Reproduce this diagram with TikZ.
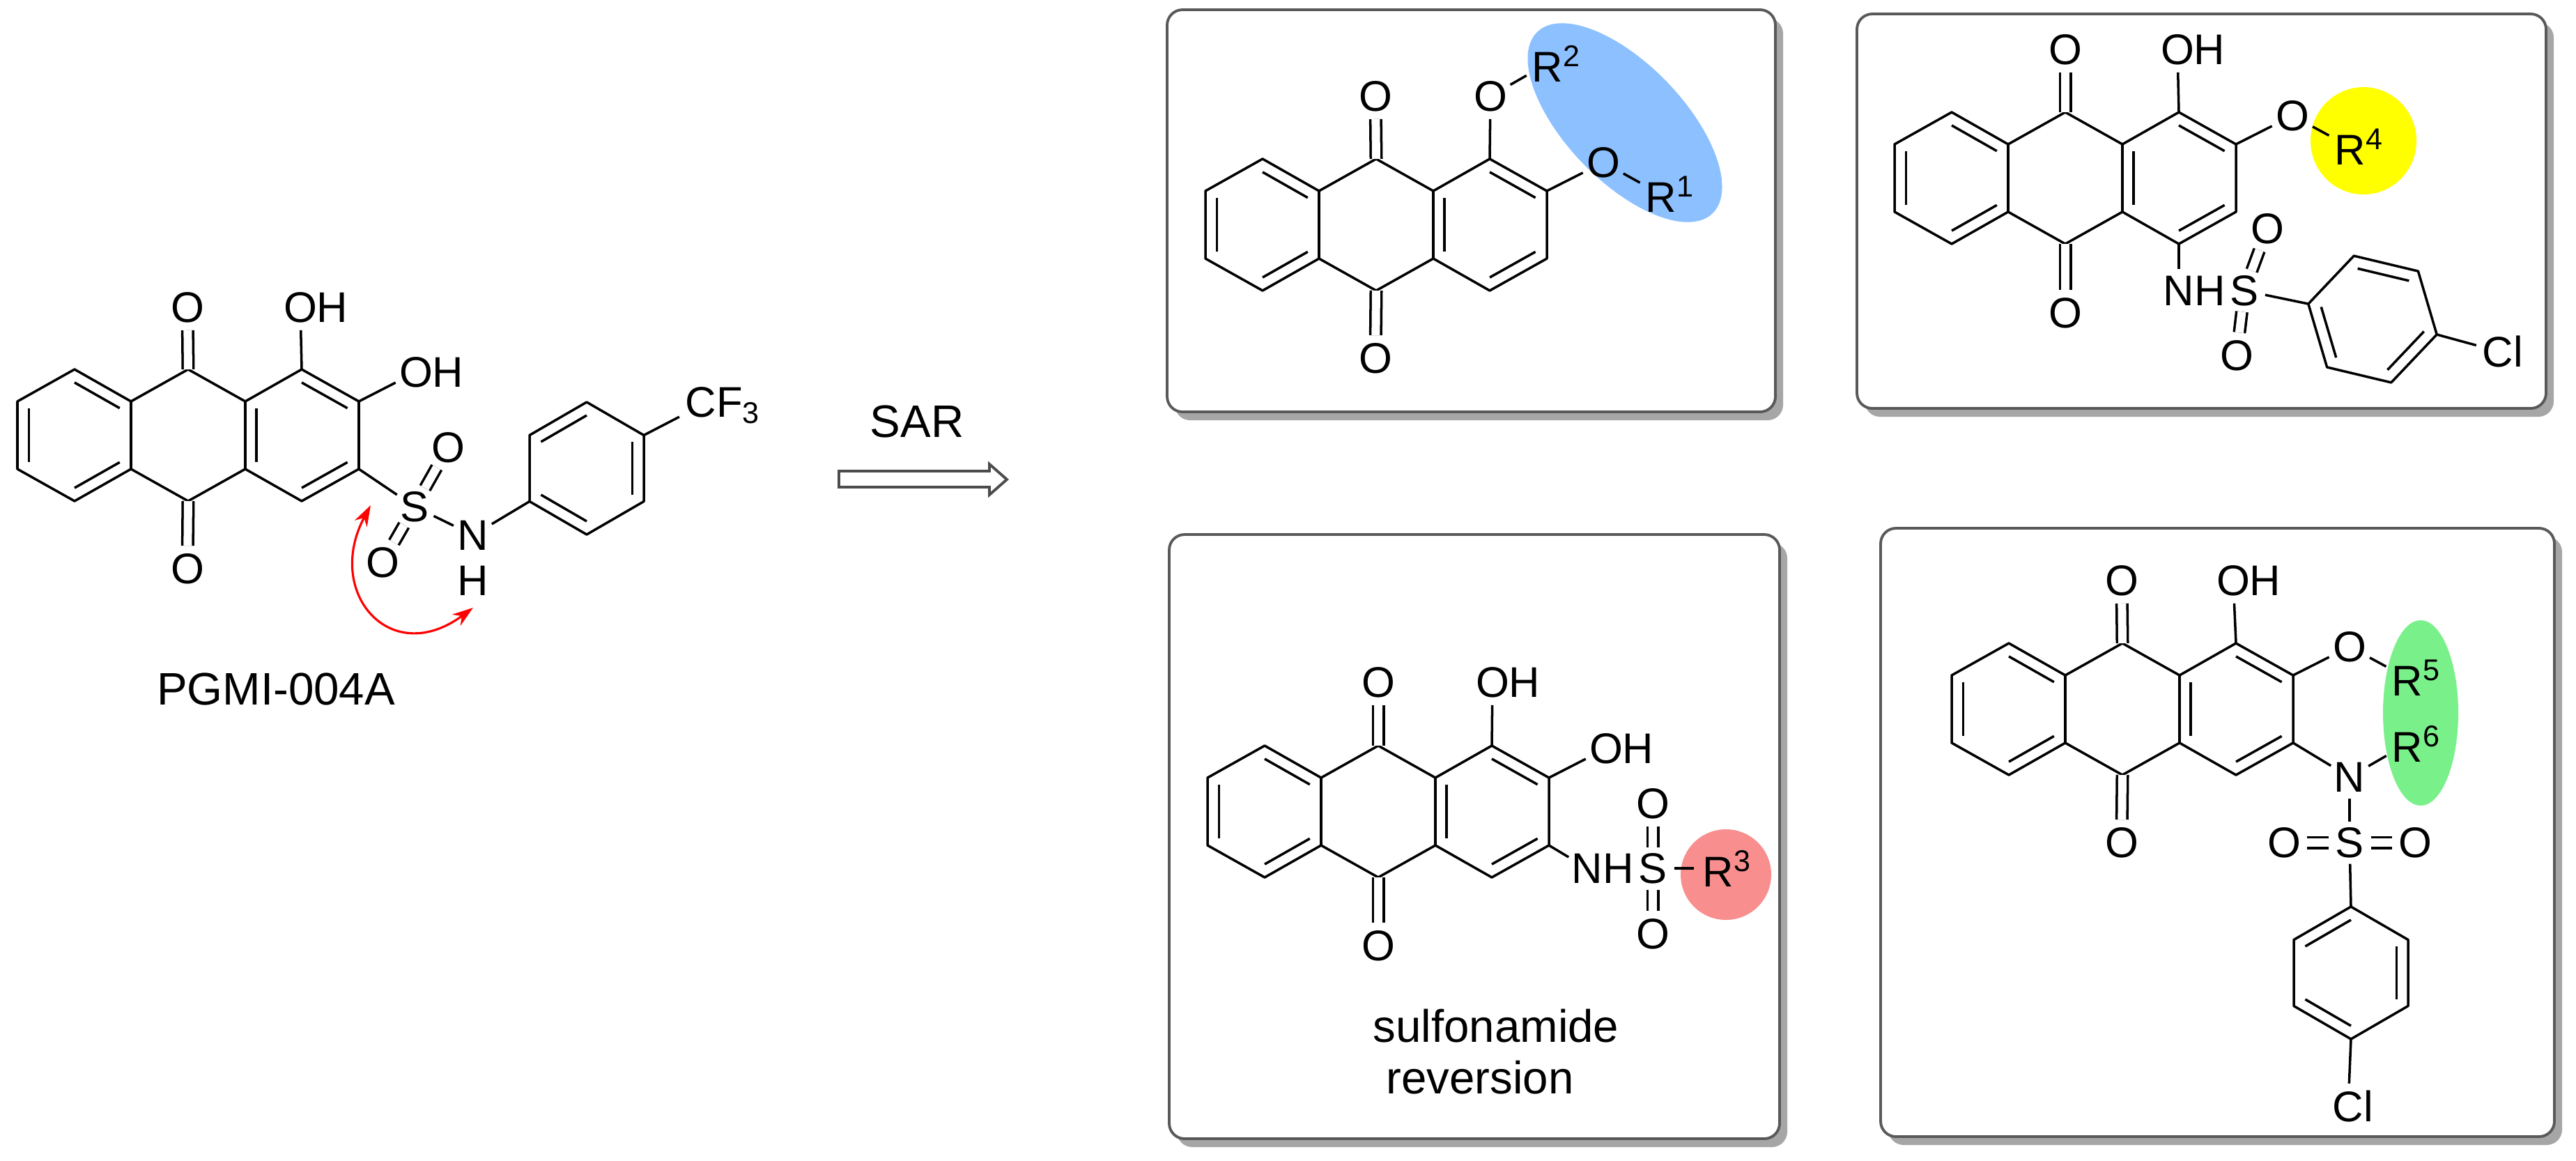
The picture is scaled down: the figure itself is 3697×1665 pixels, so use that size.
\documentclass[tikz,border=0pt]{standalone}
\usepackage{fontspec}
\setmainfont{Liberation Sans}
\usetikzlibrary{calc,shadows,arrows.meta}

\definecolor{blobblue}{HTML}{8CC0FF}
\definecolor{blobyellow}{HTML}{FFFF00}
\definecolor{blobpink}{HTML}{F88E8E}
\definecolor{blobgreen}{HTML}{7AF08A}

\newcommand{\inbond}[3]{\draw ($(#1)!.2!(#3)$) -- ($(#2)!.2!(#3)$);}

\tikzset{
    bond/.style={line width=1pt,line join=round},
    dbl/.style={bond,double,double distance=3.4pt},
    atom/.style={circle,inner sep=0pt,font=\fontsize{17.5}{20}\selectfont},
    caption/.style={font=\fontsize{18.6}{22}\selectfont},
    card/.style={draw=black!65,line width=1.1pt,fill=white,rounded corners=0.22cm,
        drop shadow={shadow xshift=0.11cm,shadow yshift=-0.12cm,fill=black!35,opacity=1}},
    pics/core/.style={code={
        \coordinate (-t1) at (82,-46);
        \coordinate (-t2) at (245,-46);
        \coordinate (-t3) at (408,-46);
        \coordinate (-u0) at (0,0);
        \coordinate (-u1) at (163,0);
        \coordinate (-u2) at (327,0);
        \coordinate (-u3) at (490,0);
        \coordinate (-l0) at (0,97);
        \coordinate (-l1) at (163,97);
        \coordinate (-l2) at (327,97);
        \coordinate (-l3) at (490,97);
        \coordinate (-b1) at (82,143);
        \coordinate (-b2) at (245,143);
        \coordinate (-b3) at (408,143);
        \coordinate (-r1) at (82,48.5);
        \coordinate (-r2) at (245,48.5);
        \coordinate (-r3) at (408,48.5);
        \begin{scope}[bond]
            \draw (-u0) -- (-t1) -- (-u1) -- (-t2) -- (-u2) -- (-t3) -- (-u3)
                -- (-l3) -- (-b3) -- (-l2) -- (-b2) -- (-l1) -- (-b1) -- (-l0) -- cycle;
            \draw (-u1) -- (-l1);
            \draw (-u2) -- (-l2);
            \inbond{-u0}{-l0}{-r1}
            \inbond{-t1}{-u1}{-r1}
            \inbond{-l1}{-b1}{-r1}
            \inbond{-u2}{-l2}{-r3}
            \inbond{-t3}{-u3}{-r3}
            \inbond{-l3}{-b3}{-r3}
        \end{scope}
    }},
    pics/phenyl/.style={code={
        \coordinate (-v0) at (0,-95);
        \coordinate (-v1) at (82,-47.5);
        \coordinate (-v2) at (82,47.5);
        \coordinate (-v3) at (0,95);
        \coordinate (-v4) at (-82,47.5);
        \coordinate (-v5) at (-82,-47.5);
        \coordinate (-r) at (0,0);
        \begin{scope}[bond]
            \draw (-v0) -- (-v1) -- (-v2) -- (-v3) -- (-v4) -- (-v5) -- cycle;
            \inbond{-v5}{-v0}{-r}
            \inbond{-v1}{-v2}{-r}
            \inbond{-v3}{-v4}{-r}
        \end{scope}
    }}
}

\begin{document}
\begin{tikzpicture}[x=0.01cm,y=-0.01cm]
    \useasboundingbox (0,0) rectangle (3697,1665);

    % Draw lead compound
    \pic (m) at (25,576) {core};
    \pic (mp) at (842,672) {phenyl};
    \node[atom] (mo1) at (269,441) {O};
    \node[atom] (mo2) at (269,816) {O};
    \node[atom] (moh1) at (431,441) {O\rlap{H}};
    \node[atom] (moh2) at (597,534) {O\rlap{H}};
    \node[atom] (ms) at (595,727) {S};
    \node[atom] (mo3) at (643,642) {O};
    \node[atom] (mo4) at (549,807) {O};
    \node[atom] (mn) at (679,768) {N};
    \node[atom] (mh) at (679,833) {H};
    \node[atom] (mcf) at (1006,582) {C\rlap{F\textsubscript{3}}};
    \draw[dbl] (m-t2) -- (mo1);
    \draw[dbl] (m-b2) -- (mo2);
    \draw[bond] (m-t3) -- (moh1);
    \draw[bond] (m-u3) -- (moh2);
    \draw[bond] (m-l3) -- (ms);
    \draw[dbl] (ms) -- (mo3);
    \draw[dbl] (ms) -- (mo4);
    \draw[bond] (ms) -- (mn);
    \draw[bond] (mn) -- (mp-v4);
    \draw[bond] (mp-v1) -- (mcf);
    \node[caption] (pgmi) at (396,989) {PGMI-004A};

    % Draw red double arrow
    \coordinate (ra) at (532,725);
    \coordinate (rb) at (679,872);
    \draw[red,line width=0.9pt,{Stealth[length=3mm,width=2mm]}-{Stealth[length=3mm,width=2mm]}] (ra)
        .. controls (465,850) and (560,960) .. (rb);

    % Draw SAR arrow
    \node[caption] (sar) at (1316,605) {SAR};
    \draw[black!70,line width=1.1pt,fill=white] (1204,676) -- (1420,676) -- (1420,666)
        -- (1445,688) -- (1420,710) -- (1420,699) -- (1204,699) -- cycle;

    % Draw box 1
    \draw[card] (1675,14) rectangle (2548,591);
    \fill[blobblue,rotate around={-46:(2332,176)}] (2332,176) ellipse (181 and 84);
    \pic (a) at (1730,274) {core};
    \node[atom] (ao1) at (1974,138) {O};
    \node[atom] (ao2) at (1974,514) {O};
    \node[atom] (ao3) at (2139,138) {O};
    \node[atom] (ao4) at (2301,233) {O};
    \node[atom] (ar2) at (2221,91) {R\rlap{\textsuperscript{2}}};
    \node[atom] (ar1) at (2384,279) {R\rlap{\textsuperscript{1}}};
    \draw[dbl] (a-t2) -- (ao1);
    \draw[dbl] (a-b2) -- (ao2);
    \draw[bond] (a-t3) -- (ao3);
    \draw[bond] (a-u3) -- (ao4);
    \draw[bond] (ao3) -- (ar2);
    \draw[bond] (ao4) -- (ar1);

    % Draw box 2
    \draw[card] (2665,20) rectangle (3654,586);
    \fill[blobyellow] (3392,202) ellipse (76 and 77);
    \pic (b) at (2719,207) {core};
    \pic[rotate=-43.5] (bp) at (3405,458) {phenyl};
    \node[atom] (bo1) at (2964,71) {O};
    \node[atom] (bo2) at (2964,449) {O};
    \node[atom] (boh) at (3125,71) {O\rlap{H}};
    \node[atom] (bo3) at (3290,166) {O};
    \node[atom] (br4) at (3373,211) {R\rlap{\textsuperscript{4}}};
    \node[atom] (bn) at (3127,417) {N\rlap{H}};
    \node[atom] (bs) at (3221,417) {S};
    \node[atom] (bo4) at (3254,328) {O};
    \node[atom] (bo5) at (3210,510) {O};
    \node[atom] (bcl) at (3585,504) {C\rlap{l}};
    \draw[dbl] (b-t2) -- (bo1);
    \draw[dbl] (b-b2) -- (bo2);
    \draw[bond] (b-t3) -- (boh);
    \draw[bond] (b-u3) -- (bo3);
    \draw[bond] (bo3) -- (br4);
    \draw[bond] (b-b3) -- (bn);
    \draw[dbl] (bs) -- (bo4);
    \draw[dbl] (bs) -- (bo5);
    \draw[bond] (bs) -- (bp-v4);
    \draw[bond] (bp-v1) -- (bcl);

    % Draw box 3
    \draw[card] (1678,767) rectangle (2554,1634);
    \fill[blobpink] (2477,1255) circle (65);
    \pic (c) at (1733,1116) {core};
    \node[atom] (co1) at (1978,979) {O};
    \node[atom] (co2) at (1978,1357) {O};
    \node[atom] (coh1) at (2142,979) {O\rlap{H}};
    \node[atom] (coh2) at (2305,1074) {O\rlap{H}};
    \node[atom] (cn) at (2278,1246) {N\rlap{H}};
    \node[atom] (cs) at (2372,1246) {S};
    \node[atom] (co3) at (2372,1153) {O};
    \node[atom] (co4) at (2372,1340) {O};
    \node[atom] (cr3) at (2466,1246) {R\rlap{\textsuperscript{3}}};
    \draw[dbl] (c-t2) -- (co1);
    \draw[dbl] (c-b2) -- (co2);
    \draw[bond] (c-t3) -- (coh1);
    \draw[bond] (c-u3) -- (coh2);
    \draw[bond] (c-l3) -- (cn);
    \draw[dbl] (cs) -- (co3);
    \draw[dbl] (cs) -- (co4);
    \draw[bond] (cs) -- (cr3);
    \node[caption] (sulf) at (2147,1472) {sulfonamide};
    \node[caption] (rev) at (2124,1546) {reversion};

    % Draw box 4
    \draw[card] (2699,758) rectangle (3666,1631);
    \fill[blobgreen] (3474,1023) ellipse (54 and 133);
    \pic (d) at (2801,969) {core};
    \pic (dp) at (3374,1396) {phenyl};
    \node[atom] (do1) at (3045,833) {O};
    \node[atom] (do2) at (3045,1209) {O};
    \node[atom] (doh) at (3205,833) {O\rlap{H}};
    \node[atom] (do3) at (3372,928) {O};
    \node[atom] (dr5) at (3455,973) {R\rlap{\textsuperscript{5}}};
    \node[atom] (dr6) at (3455,1067) {R\rlap{\textsuperscript{6}}};
    \node[atom] (dn) at (3372,1115) {N};
    \node[atom] (ds) at (3372,1209) {S};
    \node[atom] (do4) at (3278,1209) {O};
    \node[atom] (do5) at (3466,1209) {O};
    \node[atom] (dcl) at (3370,1587) {C\rlap{l}};
    \draw[dbl] (d-t2) -- (do1);
    \draw[dbl] (d-b2) -- (do2);
    \draw[bond] (d-t3) -- (doh);
    \draw[bond] (d-u3) -- (do3);
    \draw[bond] (do3) -- (dr5);
    \draw[bond] (d-l3) -- (dn);
    \draw[bond] (dn) -- (dr6);
    \draw[bond] (dn) -- (ds);
    \draw[dbl] (ds) -- (do4);
    \draw[dbl] (ds) -- (do5);
    \draw[bond] (ds) -- (dp-v0);
    \draw[bond] (dp-v3) -- (dcl);

\end{tikzpicture}
\end{document}
